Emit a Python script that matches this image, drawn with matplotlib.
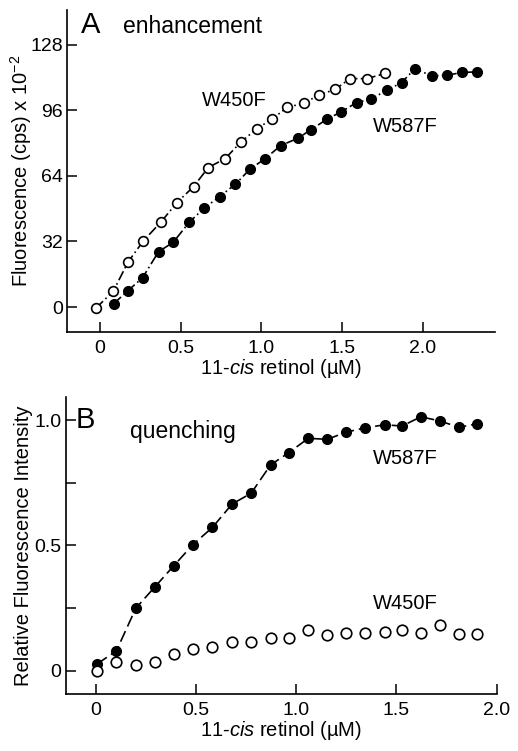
import numpy as np
import matplotlib.pyplot as plt

plt.rcParams['font.family'] = ['Liberation Sans', 'DejaVu Sans']
plt.rcParams['mathtext.fontset'] = 'custom'
plt.rcParams['mathtext.rm'] = 'Liberation Sans'
plt.rcParams['mathtext.it'] = 'Liberation Sans:italic'

# panel A - enhancement
a_w450_x = [-0.025, 0.083, 0.175, 0.268, 0.380, 0.477, 0.580, 0.671, 0.776, 0.871,
            0.970, 1.065, 1.158, 1.261, 1.356, 1.457, 1.548, 1.651, 1.767]
a_w450_y = [-0.6, 7.8, 22.1, 32.2, 41.7, 51.0, 58.8, 68.1, 72.5, 80.4,
            87.0, 91.7, 97.4, 99.5, 103.4, 106.3, 111.5, 111.5, 114.0]
a_w587_x = [0.085, 0.171, 0.264, 0.363, 0.454, 0.553, 0.644, 0.741, 0.838, 0.929,
            1.024, 1.119, 1.226, 1.305, 1.406, 1.494, 1.589, 1.676, 1.775, 1.868,
            1.950, 2.056, 2.150, 2.243, 2.336]
a_w587_y = [1.6, 7.8, 14.3, 27.0, 31.6, 41.4, 48.2, 53.9, 59.9, 67.3,
            72.5, 78.8, 82.4, 86.5, 91.7, 95.3, 99.8, 101.5, 105.7, 109.6,
            116.3, 112.8, 113.2, 114.5, 114.8]

# panel B - quenching
b_x = [0.007, 0.103, 0.200, 0.295, 0.388, 0.483, 0.582, 0.680, 0.775, 0.872,
       0.963, 1.060, 1.155, 1.247, 1.343, 1.442, 1.528, 1.622, 1.717, 1.812, 1.903]
b_w587_y = [0.028, 0.080, 0.250, 0.335, 0.418, 0.502, 0.572, 0.665, 0.708, 0.821,
            0.870, 0.927, 0.923, 0.951, 0.969, 0.981, 0.976, 1.013, 0.996, 0.971, 0.985]
b_w450_y = [0.000, 0.035, 0.025, 0.037, 0.068, 0.088, 0.097, 0.117, 0.117, 0.130,
            0.130, 0.163, 0.142, 0.153, 0.150, 0.155, 0.163, 0.151, 0.183, 0.146, 0.146]

fig = plt.figure(figsize=(5.18, 7.51), dpi=100)
axA = fig.add_axes([0.1293, 0.5579, 0.8263, 0.4288])
axB = fig.add_axes([0.1268, 0.0759, 0.8321, 0.3959])

ms = 7
for ax in (axA, axB):
    for s in ('top', 'right'):
        ax.spines[s].set_visible(False)
    for s in ('left', 'bottom'):
        ax.spines[s].set_linewidth(1.2)
    ax.tick_params(direction='in', length=7, width=1.1, labelsize=14, pad=3)
    ax.tick_params(axis='x', pad=6)

# A
axA.plot(a_w450_x, a_w450_y, color='black', lw=1.2, dashes=(6, 2, 1, 2),
         marker='o', ms=ms, mfc='white', mec='black', mew=1.2)
axA.plot(a_w587_x, a_w587_y, color='black', lw=1.2, dashes=(6, 2, 1, 2),
         marker='o', ms=ms, mfc='black', mec='black')
axA.set_xlim(-0.204, 2.446)
axA.set_ylim(-12.2, 145)
axA.set_xticks([0, 0.5, 1.0, 1.5, 2.0])
axA.set_xticklabels(['0', '0.5', '1.0', '1.5', '2.0'])
axA.set_yticks([0, 32, 64, 96, 128])
axA.set_xlabel('11-$\\it{cis}$ retinol (µM)', fontsize=14.5, labelpad=0)
axA.set_ylabel('Fluorescence (cps) x 10$^{-2}$', fontsize=14.5, labelpad=-3)
axA.text(-0.06, 137.8, 'A', fontsize=21, ha='center', va='center')
axA.text(0.14, 137, 'enhancement', fontsize=16.5, ha='left', va='center')
axA.text(0.83, 101, 'W450F', fontsize=14.5, ha='center', va='center')
axA.text(1.889, 88, 'W587F', fontsize=14.5, ha='center', va='center')

# B
axB.plot(b_x, b_w587_y, color='black', lw=1.2, dashes=(7, 3),
         marker='o', ms=ms, mfc='black', mec='black')
axB.plot(b_x, b_w450_y, ls='none',
         marker='o', ms=ms + 0.6, mfc='white', mec='black', mew=1.2)
axB.set_xlim(-0.15, 2.0)
axB.set_ylim(-0.092, 1.093)
axB.set_xticks([0, 0.5, 1.0, 1.5, 2.0])
axB.set_xticklabels(['0', '0.5', '1.0', '1.5', '2.0'])
axB.set_yticks([0, 0.25, 0.5, 0.75, 1.0])
axB.set_yticklabels(['0', '', '0.5', '', '1.0'])
axB.set_xlabel('11-$\\it{cis}$ retinol (µM)', fontsize=14.5, labelpad=0)
axB.set_ylabel('Relative Fluorescence Intensity', fontsize=14.5, labelpad=1)
axB.text(-0.05, 1.0, 'B', fontsize=21, ha='center', va='center')
axB.text(0.17, 0.955, 'quenching', fontsize=16.5, ha='left', va='center')
axB.text(1.545, 0.845, 'W587F', fontsize=14.5, ha='center', va='center')
axB.text(1.545, 0.27, 'W450F', fontsize=14.5, ha='center', va='center')

fig.savefig('out.png', dpi=100)
